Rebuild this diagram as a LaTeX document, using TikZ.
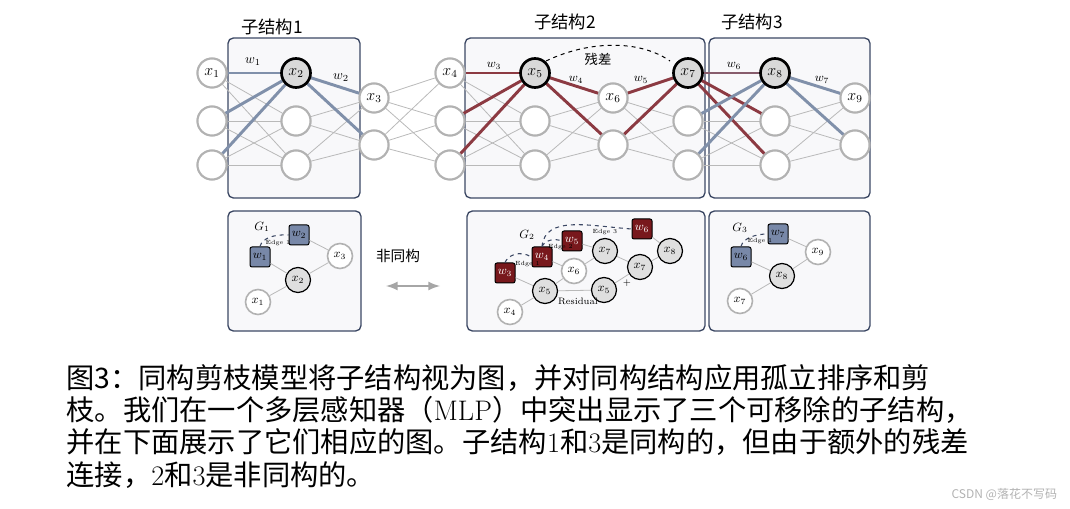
\documentclass[tikz,border=0pt]{standalone}
\usepackage{fontspec}
\newfontfamily\cjk{Noto Sans CJK SC}
\usetikzlibrary{positioning}
\definecolor{slate}{RGB}{128,144,170}
\definecolor{wine}{RGB}{140,58,66}
\definecolor{boxline}{RGB}{60,72,100}
\definecolor{boxfill}{RGB}{248,248,250}
\definecolor{sqblue}{RGB}{120,136,168}
\definecolor{sqred}{RGB}{120,24,28}
\tikzset{every picture/.style={line width=0.75pt}}
\tikzset{
  neuron/.style={circle,draw=gray!60,line width=1.5pt,fill=white,minimum size=29pt*0.75,inner sep=0pt,font=\large},
  active/.style={neuron,draw=black,line width=2pt,fill=gray!30},
  thin/.style={gray!55,line width=0.6pt},
  hlb/.style={slate,line width=2.2pt},
  hlr/.style={wine,line width=2.2pt},
  sub/.style={draw=boxline,fill=boxfill,rounded corners=4pt,line width=1pt},
  gnode/.style={circle,draw=gray!60,line width=1.2pt,fill=white,minimum size=25pt*0.75,inner sep=0pt,font=\small},
  gact/.style={gnode,draw=black,line width=0.9pt,fill=gray!25},
  sqb/.style={draw=black,fill=sqblue,rounded corners=1.5pt,minimum size=20pt*0.75,inner sep=0pt,font=\small},
  sqr/.style={sqb,fill=sqred,text=white},
  edgec/.style={dashed,draw=boxline,line width=0.8pt},
  tiny/.style={font=\fontsize{4.5}{5}\selectfont,inner sep=0.5pt}
}
\begin{document}
\begin{tikzpicture}[x=0.75pt,y=0.75pt,yscale=-1,xscale=1]
\useasboundingbox (0,0) rectangle (1070,509);

% boxes
\draw [sub] (228,38) rectangle (360,198);
\draw [sub] (465,38) rectangle (705,198);
\draw [sub] (709,38) rectangle (870,198);
\draw [sub] (228,211) rectangle (361,331);
\draw [sub] (467,211) rectangle (705,331);
\draw [sub] (709,211) rectangle (870,331);

% titles
\node at (272,27) {\cjk\fontsize{13}{13}\selectfont 子结构1};
\node at (565,22) {\cjk\fontsize{13}{13}\selectfont 子结构2};
\node at (752,22) {\cjk\fontsize{13}{13}\selectfont 子结构3};

% neurons
\foreach \c/\x in {A/212,B/296,D/450,E/535,G/688,H/775}
  \foreach \i/\y in {1/73,2/121,3/165}
    \node [neuron] (\c\i) at (\x,\y) {};
\foreach \c/\x in {C/374,F/613,I/855}
  \foreach \i/\y in {1/98,2/145}
    \node [neuron] (\c\i) at (\x,\y) {};

% full connections
\foreach \p/\q in {A/B,D/E,G/H}
  \foreach \i in {1,2,3}
    \foreach \j in {1,2,3}
      \draw [thin] (\p\i) -- (\q\j);
\foreach \p/\q in {B/C,E/F,H/I}
  \foreach \i in {1,2,3}
    \foreach \j in {1,2}
      \draw [thin] (\p\i) -- (\q\j);
\foreach \p/\q in {C/D,F/G}
  \foreach \i in {1,2}
    \foreach \j in {1,2,3}
      \draw [thin] (\p\i) -- (\q\j);

% highlighted weights
\foreach \i in {1,2,3} \draw [hlb] (A\i) -- (B1);
\foreach \j in {1,2} \draw [hlb] (B1) -- (C\j);
\foreach \i in {1,2,3} \draw [hlr] (D\i) -- (E1);
\foreach \j in {1,2} \draw [hlr] (E1) -- (F\j);
\foreach \i in {1,2} \draw [hlr] (F\i) -- (G1);
\foreach \j in {2,3} \draw [hlr] (G1) -- (H\j);
\draw [line width=2.2pt,draw=wine!60!slate] (G1) -- (H1);
\foreach \i in {2,3} \draw [hlb] (G\i) -- (H1);
\foreach \j in {1,2} \draw [hlb] (H1) -- (I\j);

% redraw neurons on top
\foreach \c/\n in {A1/1,C1/3,D1/4,F1/6,I1/9}
  \node [neuron] at (\c) {$x_{\n}$};
\foreach \c in {A2,A3,B2,B3,C2,D2,D3,E2,E3,F2,G2,G3,H2,H3,I2}
  \node [neuron] at (\c) {};
\node [active] at (B1) {$x_2$};
\node [active] at (E1) {$x_5$};
\node [active] at (G1) {$x_7$};
\node [active] at (H1) {$x_8$};

% weight labels
\node at (253,62) {$w_1$};
\node at (341,78) {$w_2$};
\node [font=\small] at (494,66) {$w_3$};
\node [font=\small] at (576,80) {$w_4$};
\node [font=\small] at (641,80) {$w_5$};
\node [font=\small] at (734,66) {$w_6$};
\node [font=\small] at (822,80) {$w_7$};

% residual
\draw [dashed] (546,61) .. controls (590,40) and (640,40) .. (670,61);
\node at (598,59) {\cjk\fontsize{10}{10}\selectfont 残差};

% G1
\node at (262,227) {\small$G_1$};
\node [gnode] (g1x3) at (340,256) {$x_3$};
\node [gact] (g1x2) at (298,280) {$x_2$};
\node [gnode] (g1x1) at (258,302) {$x_1$};
\node [sqb] (g1w2) at (299,235) {$w_2$};
\node [sqb] (g1w1) at (260,257) {$w_1$};
\draw [thin] (g1x1) -- (g1x2) -- (g1x3) -- (g1w2);
\draw [thin] (g1w1) -- (g1x2);
\draw [edgec] (g1w1.north) .. controls (262,238) and (275,234) .. (g1w2.west);
\node [tiny] at (278,243) {Edge 1};

% non-isomorphic
\node at (398,256) {\cjk\fontsize{11}{11}\selectfont 非同构};
\draw [gray!70,line width=2pt,<->,>=latex] (386,286) -- (440,286);

% G2
\node at (527,235) {\small$G_2$};
\node [gnode] (g2x4) at (510,312) {$x_4$};
\node [gact] (g2x5) at (545,291) {$x_5$};
\node [gnode] (g2x6) at (574,271) {$x_6$};
\node [gact] (g2x7) at (605,251) {$x_7$};
\node [gact] (g2r5) at (604,290) {$x_5$};
\node [gact] (g2r7) at (640,267) {$x_7$};
\node [gact] (g2x8) at (670,251) {$x_8$};
\node [sqr] (g2w3) at (505,273) {$w_3$};
\node [sqr] (g2w4) at (542,257) {$w_4$};
\node [sqr] (g2w5) at (572,241) {$w_5$};
\node [sqr] (g2w6) at (642,229) {$w_6$};
\draw [thin] (g2x4) -- (g2x5) -- (g2x6) -- (g2x7) -- (g2r7) -- (g2x8);
\draw [thin] (g2x5) -- (g2r5) -- (g2r7);
\draw [thin] (g2w3) -- (g2x5);
\draw [thin] (g2w4) -- (g2x6);
\draw [thin] (g2w5) -- (g2x7);
\draw [thin] (g2w6) -- (g2x8);
\draw [edgec] (g2w3.north) .. controls (508,255) and (520,250) .. (g2w4.west);
\draw [edgec] (g2w4.north) .. controls (545,240) and (555,238) .. (g2w5.west);
\draw [edgec] (g2w4.north) .. controls (545,215) and (590,226) .. (g2w6.west);
\node [tiny,anchor=west] at (514,264) {Edge 1};
\node [tiny,anchor=west] at (547,247) {Edge 2};
\node [tiny] at (605,232) {Edge 3};
\node [font=\scriptsize] at (578,301) {Residual};
\node [font=\scriptsize] at (627,283) {$+$};

% G3
\node at (740,228) {\small$G_3$};
\node [gnode] (g3x9) at (818,252) {$x_9$};
\node [gact] (g3x8) at (782,276) {$x_8$};
\node [gnode] (g3x7) at (740,301) {$x_7$};
\node [sqb] (g3w7) at (778,234) {$w_7$};
\node [sqb] (g3w6) at (741,257) {$w_6$};
\draw [thin] (g3x7) -- (g3x8) -- (g3x9) -- (g3w7);
\draw [thin] (g3w6) -- (g3x8);
\draw [edgec] (g3w6.north) .. controls (743,238) and (756,234) .. (g3w7.west);
\node [tiny] at (760,241) {Edge 1};

% caption
\begin{scope}[every node/.style={anchor=west,inner sep=0pt,font=\fontsize{21.2}{21.2}\selectfont}]
\node at (66,378) {\cjk 图3：同构剪枝模型将子结构视为图，并对同构结构应用孤立排序和剪};
\node at (66,410) {\cjk 枝。我们在一个多层感知器（{\rmfamily MLP}）中突出显示了三个可移除的子结构，};
\node at (66,442) {\cjk 并在下面展示了它们相应的图。子结构{\rmfamily 1}和{\rmfamily 3}是同构的，但由于额外的残差};
\node at (66,475) {\cjk 连接，{\rmfamily 2}和{\rmfamily 3}是非同构的。};
\end{scope}
\node [anchor=east,text=gray!60,font=\fontsize{9}{9}\selectfont] at (1062,494) {\cjk CSDN @落花不写码};
\end{tikzpicture}
\end{document}
